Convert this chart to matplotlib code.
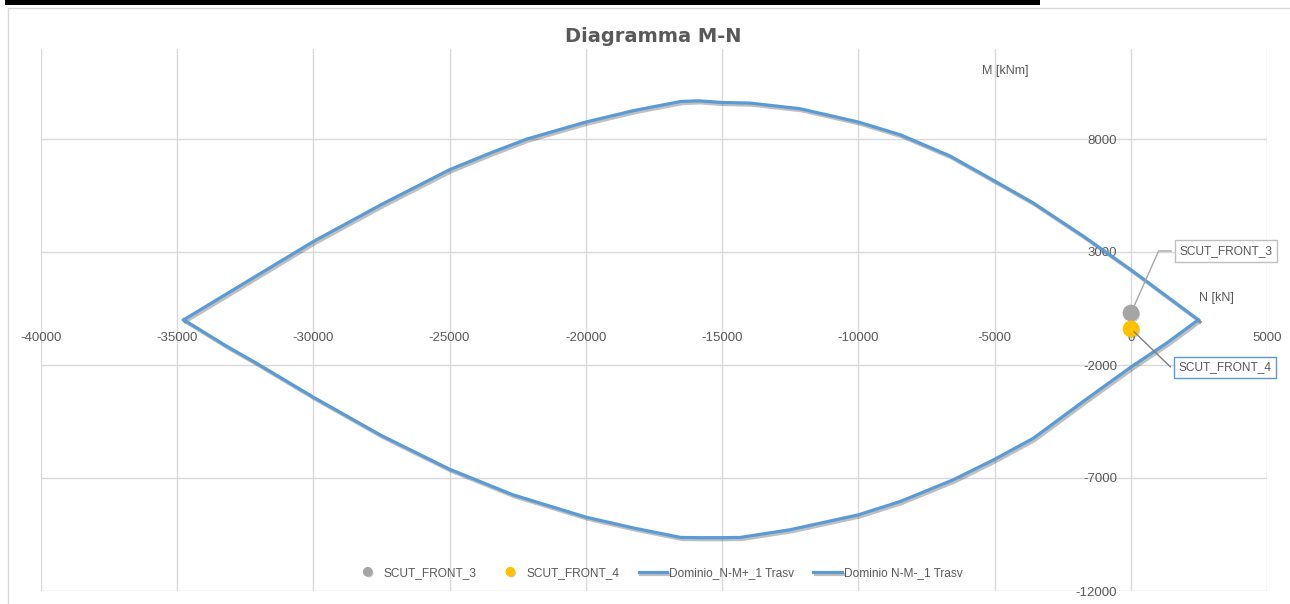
import matplotlib
matplotlib.use("Agg")
import matplotlib.pyplot as plt
import matplotlib.patheffects as pe
from matplotlib.patches import Rectangle
from matplotlib.lines import Line2D

# Dominio N-M+ (upper branch), N [kN], M [kNm]
n_pos = [-34750, -32500, -30000, -27500, -25000, -23500, -22160, -20000, -18230,
         -16520, -15860, -15000, -13980, -12140, -10000, -8470, -6640, -5000,
         -3600, -1750, 0, 1310, 2470]
m_pos = [0, 1640, 3460, 5100, 6640, 7380, 8000, 8750, 9260,
         9660, 9690, 9615, 9590, 9340, 8750, 8190, 7250, 6140,
         5180, 3700, 2210, 1040, 0]

# Dominio N-M- (lower branch)
n_neg = [-34750, -33160, -32110, -30000, -27500, -25000, -22680, -20000, -18220,
         -16520, -15810, -15000, -14340, -12510, -10000, -8470, -6520, -5000,
         -3580, -1750, 0, 1310, 2470]
m_neg = [0, -1180, -1900, -3420, -5120, -6610, -7740, -8730, -9220,
         -9630, -9640, -9640, -9630, -9290, -8630, -8040, -7080, -6170,
         -5240, -3610, -2090, -1030, 0]

# verification points
pt_names = ["SCUT_FRONT_3", "SCUT_FRONT_4"]
pt_n = [0, 0]
pt_m = [300, -400]

x_ticks = list(range(-40000, 5001, 5000))
y_ticks = list(range(-12000, 12001, 5000))

TXT = "#595959"
GRID = "#d9d9d9"
BLUE = "#5b9bd5"
GRAY = "#a5a5a5"
YELLOW = "#ffc000"

plt.rcParams['font.family'] = ['Liberation Sans', 'DejaVu Sans']
plt.rcParams['axes.unicode_minus'] = False

W, H = 1290, 604
fig = plt.figure(figsize=(W / 100, H / 100), dpi=100)

# screenshot artefacts: black strip on top and chart frame
fig.add_artist(Rectangle((5 / W, 1 - 5 / H), 1035 / W, 5 / H, transform=fig.transFigure,
                         facecolor="black", edgecolor="none"))
fig.add_artist(Line2D([7.5 / W, 7.5 / W], [0, 1 - 7.5 / H], transform=fig.transFigure,
                      color=GRID, lw=1))
fig.add_artist(Line2D([7.5 / W, 1], [1 - 7.5 / H, 1 - 7.5 / H], transform=fig.transFigure,
                      color=GRID, lw=1))

ax = fig.add_axes([40.6 / W, 13 / H, 1226.7 / W, 542.4 / H])
ax.set_xlim(-40000, 5000)
ax.set_ylim(-12000, 12000)
ax.set_xticks(x_ticks)
ax.set_yticks(y_ticks)
ax.grid(True, color=GRID, lw=1)
ax.set_axisbelow(True)

for s in ["top", "right"]:
    ax.spines[s].set_visible(False)
ax.spines["bottom"].set_position(("data", 0))
ax.spines["left"].set_position(("data", 0))
ax.spines["bottom"].set_color("none")
ax.spines["left"].set_color("none")
ax.tick_params(axis="x", length=0, pad=9, labelsize=9.5, labelcolor=TXT)
ax.tick_params(axis="y", length=0, pad=10, labelsize=9.5, labelcolor=TXT)

shadow = [pe.SimpleLineShadow(offset=(1.2, -1.5), shadow_color="black", alpha=0.25),
          pe.Normal()]

ax.plot(n_pos, m_pos, color=BLUE, lw=2.3, label="Dominio_N-M+_1 Trasv",
        path_effects=shadow, zorder=3, solid_joinstyle="round")
ax.plot(n_neg, m_neg, color=BLUE, lw=2.3, label="Dominio N-M-_1 Trasv",
        path_effects=shadow, zorder=3, solid_joinstyle="round")

pt_colors = [GRAY, YELLOW]
for name, n, m, c in zip(pt_names, pt_n, pt_m, pt_colors):
    ax.plot([n], [m], ls="none", marker="o", ms=11, color=c, mec=c, label=name,
            zorder=4, path_effects=[pe.SimplePatchShadow(offset=(1, -1), alpha=0.25), pe.Normal()])

# data labels with leader lines
ax.annotate(pt_names[0], xy=(pt_n[0], pt_m[0]), xytext=(95, 62), textcoords="offset pixels",
            ha="center", va="center", fontsize=8.6, color=TXT,
            bbox=dict(boxstyle="square,pad=0.4", fc="white", ec="#bfbfbf", lw=1),
            arrowprops=dict(arrowstyle="-", color="#a6a6a6", lw=1, shrinkB=6,
                            relpos=(0, 0.5),
                            connectionstyle="angle,angleA=180,angleB=66,rad=0"),
            zorder=6)
ax.annotate(pt_names[1], xy=(pt_n[1], pt_m[1]), xytext=(94, -38.5), textcoords="offset pixels",
            ha="center", va="center", fontsize=8.6, color=TXT,
            bbox=dict(boxstyle="square,pad=0.4", fc="white", ec=BLUE, lw=1),
            arrowprops=dict(arrowstyle="-", color="#7f7f7f", lw=1, shrinkB=3,
                            relpos=(0, 0.5),
                            connectionstyle="angle,angleA=180,angleB=-44,rad=0"),
            zorder=6)

# axis titles
ax.text(-4620, 11000, "M [kNm]", ha="center", va="center", fontsize=9, color=TXT)
ax.text(3150, 970, "N [kN]", ha="center", va="center", fontsize=9, color=TXT)

fig.text(653 / W, 1 - 37 / H, "Diagramma M-N", ha="center", va="center",
         fontsize=14, fontweight="bold", color=TXT, family=['DejaVu Sans'])

handles, labels = ax.get_legend_handles_labels()
order = [2, 3, 0, 1]
leg = ax.legend([handles[i] for i in order], [labels[i] for i in order],
                loc="center", bbox_to_anchor=(658 / W, 1 - 573 / H), bbox_transform=fig.transFigure,
                ncol=4, frameon=False, fontsize=8.6, handlelength=2.4, handletextpad=0.15,
                columnspacing=1.6, markerscale=0.55)
for t in leg.get_texts():
    t.set_color(TXT)

fig.savefig("out.png", dpi=100)
